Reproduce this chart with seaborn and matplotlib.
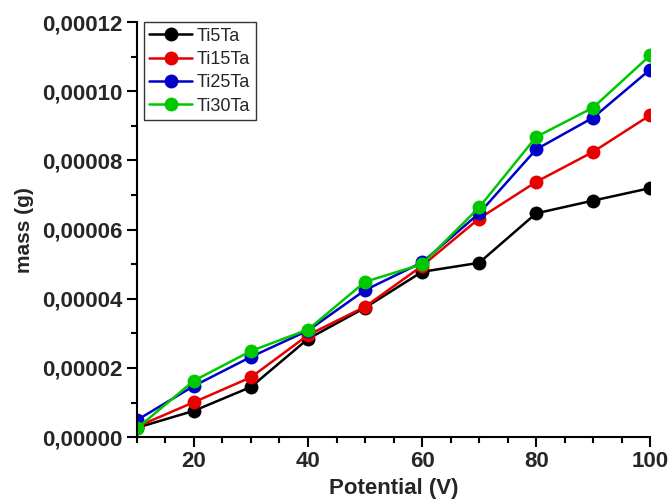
import pandas as pd
import matplotlib
matplotlib.use('Agg')
import matplotlib.pyplot as plt
import seaborn as sns
from matplotlib.ticker import FuncFormatter, MultipleLocator

# values
potential = [10, 20, 30, 40, 50, 60, 70, 80, 90, 100]
ti5ta = [0.0000027, 0.0000076, 0.0000145, 0.0000284, 0.0000374, 0.0000478, 0.0000504, 0.0000647, 0.0000684, 0.0000720]
ti15ta = [0.0000030, 0.0000101, 0.0000173, 0.0000295, 0.0000377, 0.0000495, 0.0000632, 0.0000738, 0.0000825, 0.0000931]
ti25ta = [0.0000049, 0.0000148, 0.0000232, 0.0000308, 0.0000425, 0.0000505, 0.0000647, 0.0000832, 0.0000924, 0.0001063]
ti30ta = [0.0000025, 0.0000163, 0.0000249, 0.0000311, 0.0000449, 0.0000500, 0.0000664, 0.0000868, 0.0000953, 0.0001104]
names = ['Ti5Ta', 'Ti15Ta', 'Ti25Ta', 'Ti30Ta']
colors = ['#000000', '#e60000', '#0000c8', '#00c800']

df = pd.DataFrame({
    'Potential': potential * 4,
    'mass': ti5ta + ti15ta + ti25ta + ti30ta,
    'sample': [n for n in names for _ in potential],
})

sns.set_style('ticks')
plt.rcParams['font.family'] = ['Liberation Sans', 'DejaVu Sans']

fig, ax = plt.subplots(figsize=(6.71, 5.03), dpi=100)
fig.subplots_adjust(left=0.204, right=0.969, top=0.956, bottom=0.131)

sns.lineplot(data=df, x='Potential', y='mass', hue='sample', palette=colors,
             marker='o', markersize=10, markeredgewidth=0, linewidth=1.8, ax=ax)

ax.set_xlim(10, 100)
ax.set_ylim(0, 0.00012)
ax.xaxis.set_major_locator(MultipleLocator(20))
ax.xaxis.set_minor_locator(MultipleLocator(5))
ax.yaxis.set_major_locator(MultipleLocator(0.00002))
ax.yaxis.set_minor_locator(MultipleLocator(0.00001))
ax.yaxis.set_major_formatter(FuncFormatter(lambda v, p: f'{v:.5f}'.replace('.', ',')))
ax.xaxis.set_major_formatter(FuncFormatter(lambda v, p: '' if v < 20 else f'{v:.0f}'))
ax.tick_params(which='major', length=7, width=1.5, labelsize=16, color='black', pad=3)
ax.tick_params(which='minor', length=4, width=1.5, color='black')
for lab in ax.get_xticklabels() + ax.get_yticklabels():
    lab.set_fontweight('bold')

for side in ['left', 'bottom']:
    ax.spines[side].set_linewidth(1.5)
    ax.spines[side].set_color('black')
sns.despine(ax=ax)

ax.set_xlabel('Potential (V)', fontsize=16, fontweight='bold', labelpad=4)
ax.set_ylabel('mass (g)', fontsize=15, fontweight='bold', labelpad=6)

leg = ax.legend(loc='upper left', bbox_to_anchor=(0.013, 1.0), fontsize=13, title=None,
                fancybox=False, edgecolor='black', handlelength=2.4, borderpad=0.3,
                labelspacing=0.35, handletextpad=0.25, borderaxespad=0)
leg.get_frame().set_linewidth(1.0)

fig.savefig('out.png', dpi=100)
